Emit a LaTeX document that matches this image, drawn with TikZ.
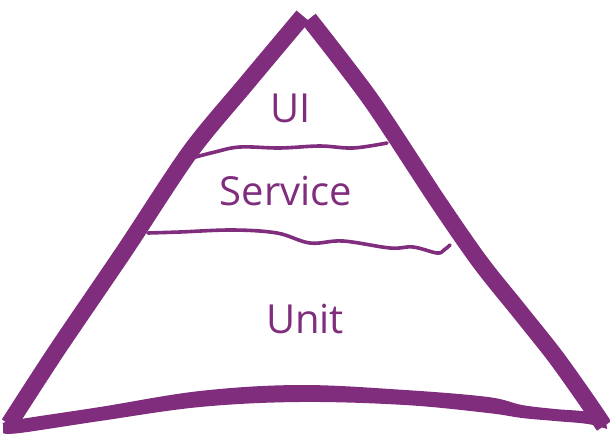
\documentclass[tikz,border=0pt]{standalone}
\usepackage{fontspec}
\setmainfont{Open Sans}
\definecolor{pc}{HTML}{802D7E}
\tikzset{
  side/.style={draw=pc, line width=17pt, line join=round},
  divider/.style={draw=pc, line width=3.6pt, line cap=round, line join=round},
  label/.style={text=pc, font=\fontsize{40}{44}\selectfont, anchor=base, inner sep=0pt}
}
\begin{document}
\begin{tikzpicture}[x=1pt,y=-1pt]
\useasboundingbox (0,0) rectangle (610,439);
% left side
\draw[side] plot[smooth, tension=0.5] coordinates {(303,16) (246,84) (190,152) (125,250) (57,350) (9,424)};
% right side
\draw[side] plot[smooth, tension=0.5] coordinates {(309,19) (371,100) (437,200) (480,262) (520,312) (555,356) (585,398) (604,426)};
% bottom
\fill[pc] plot[smooth, tension=0.6] coordinates {(3,424) (15,420) (100,407) (200,391) (300,385) (405,390) (488,397) (522,405) (555,409) (588,412) (606,420)}
  -- plot[smooth, tension=0.6] coordinates {(607,429) (588,424) (555,421) (522,418) (488,413) (405,405) (300,402) (200,407) (100,421) (20,433) (3,433)} -- cycle;
% dividers
\draw[divider] plot[smooth, tension=0.6] coordinates {(192,158) (215,152) (240,147) (280,148) (320,146) (353,148) (387,143)};
\draw[divider] plot[smooth, tension=0.6] coordinates {(148,233) (180,232) (233,230) (277,233) (310,243) (343,241) (390,248) (413,247) (437,253) (444,250) (450,245)};
% labels
\node[label] (ui) at (291,122) {UI};
\node[label] (service) at (286,205) {Service};
\node[label] (unit) at (305,333) {Unit};
\end{tikzpicture}
\end{document}
